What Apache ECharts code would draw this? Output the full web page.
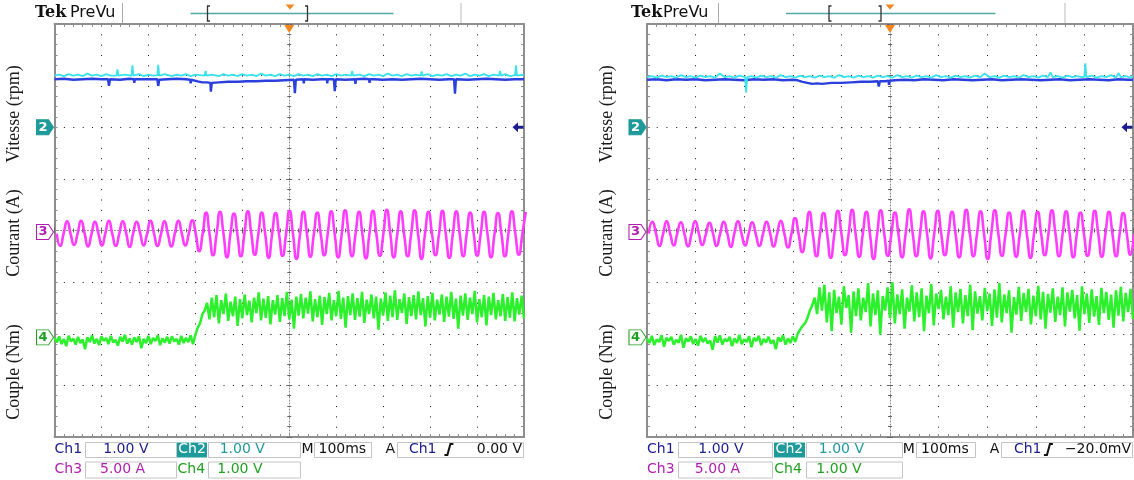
<!DOCTYPE html>
<html>
<head>
<meta charset="utf-8">
<script src="https://cdn.jsdelivr.net/npm/echarts@6/dist/echarts.min.js"></script>
<style>
html,body{margin:0;padding:0;background:#fff;}
#chart{width:1134px;height:480px;}
</style>
</head>
<body>
<div id="chart"></div>
<script>
// ---------------- DATA (divisions vs ms) ----------------
const axisTitles = ['Vitesse (rpm)', 'Courant (A)', 'Couple (Nm)'];
const markerLabels = ['2', '3', '4'];
const markerLevels = [2.0, -0.03, -2.07];
const ch1TrigLevel = 2.0;
const infoRow1Left = ['Ch1', '1.00 V', 'Ch2', '1.00 V', 'M', '100ms', 'A', 'Ch1', '0.00 V'];
const infoRow1Right = ['Ch1', '1.00 V', 'Ch2', '1.00 V', 'M', '100ms', 'A', 'Ch1', '\u221220.0mV'];
const infoRow2 = ['Ch3', '5.00 A', 'Ch4', '1.00 V'];
const headerTexts = ['Tek', 'PreVu'];

// Ch1 (blue) [t ms, div]
const ch1Left = [[-500,2.93],[-480,2.94],[-460,2.92],[-440,2.93],[-420,2.94],[-400,2.93],[-386,2.93],[-384,2.80],[-382,2.93],[-360,2.92],[-340,2.94],[-331,2.93],[-330,2.86],[-329,2.93],[-320,2.93],[-300,2.93],[-281,2.93],[-279,2.80],[-277,2.92],[-260,2.93],[-240,2.94],[-220,2.93],[-211,2.92],[-210,2.85],[-209,2.92],[-205,2.92],[-195,2.89],[-185,2.87],[-175,2.87],[-168,2.86],[-167,2.69],[-165,2.86],[-150,2.87],[-130,2.88],[-110,2.88],[-90,2.89],[-70,2.89],[-50,2.90],[-30,2.90],[-10,2.91],[10,2.92],[12,2.66],[14,2.92],[30,2.93],[31,2.85],[32,2.93],[50,2.92],[70,2.93],[80,2.93],[81,2.85],[82,2.93],[95,2.93],[97,2.70],[99,2.93],[120,2.92],[140,2.93],[141,2.84],[142,2.93],[160,2.94],[170,2.93],[171,2.86],[172,2.93],[180,2.93],[200,2.92],[220,2.93],[240,2.92],[260,2.93],[280,2.94],[300,2.93],[320,2.92],[340,2.93],[351,2.93],[353,2.65],[355,2.93],[380,2.92],[400,2.93],[420,2.94],[440,2.93],[460,2.92],[480,2.93],[500,2.93]];
const ch1Right = [[-500,2.92],[-480,2.93],[-460,2.91],[-440,2.93],[-420,2.92],[-400,2.93],[-380,2.91],[-360,2.92],[-340,2.93],[-320,2.92],[-300,2.91],[-280,2.93],[-260,2.92],[-240,2.93],[-220,2.91],[-200,2.92],[-190,2.91],[-180,2.88],[-170,2.86],[-160,2.84],[-150,2.85],[-140,2.84],[-120,2.86],[-100,2.86],[-80,2.87],[-60,2.88],[-40,2.88],[-25,2.89],[-23,2.79],[-21,2.89],[-10,2.89],[-3,2.90],[-2,2.82],[-1,2.90],[10,2.91],[30,2.92],[50,2.91],[70,2.93],[90,2.92],[110,2.91],[130,2.93],[150,2.92],[170,2.91],[190,2.92],[210,2.93],[230,2.91],[250,2.92],[270,2.93],[290,2.92],[310,2.91],[330,2.92],[350,2.93],[370,2.91],[390,2.92],[410,2.93],[430,2.92],[450,2.91],[470,2.93],[490,2.92],[500,2.92]];

// Ch2 (cyan) [t ms, div]
const ch2Left = [[-500,3.00],[-490,3.02],[-480,2.99],[-470,3.03],[-460,3.00],[-450,3.02],[-440,2.99],[-430,3.04],[-420,3.00],[-410,3.02],[-400,2.99],[-390,3.03],[-380,3.00],[-368,3.00],[-366,3.12],[-364,3.00],[-350,3.02],[-336,3.00],[-334,3.20],[-332,3.00],[-320,3.03],[-310,2.99],[-300,3.02],[-290,3.00],[-281,3.01],[-279,3.21],[-277,3.00],[-265,3.03],[-250,2.99],[-240,3.02],[-230,3.00],[-220,3.03],[-210,2.99],[-200,3.02],[-180,3.00],[-178,3.09],[-176,3.00],[-165,3.02],[-150,2.99],[-140,3.03],[-130,3.00],[-120,3.02],[-110,2.99],[-100,3.03],[-90,3.00],[-80,3.02],[-70,2.99],[-60,3.04],[-50,3.00],[-40,3.02],[-30,2.99],[-20,3.03],[-10,3.00],[0,3.02],[10,2.99],[20,3.03],[30,3.00],[40,3.02],[50,2.99],[60,3.03],[70,3.00],[80,3.02],[90,2.99],[100,3.03],[110,3.00],[120,3.02],[132,3.00],[134,3.09],[136,3.00],[150,3.02],[160,2.99],[170,3.03],[180,3.00],[190,3.02],[200,2.99],[210,3.04],[220,3.00],[230,3.02],[240,2.99],[250,3.03],[260,3.00],[270,3.02],[280,3.00],[282,3.08],[284,3.00],[295,3.03],[305,2.99],[315,3.02],[325,3.00],[335,3.03],[345,2.99],[355,3.02],[365,3.00],[375,3.04],[385,2.99],[395,3.02],[405,3.00],[415,3.03],[425,2.99],[435,3.02],[447,3.00],[449,3.09],[451,3.00],[460,3.03],[470,2.99],[481,3.01],[483,3.20],[485,3.00],[495,3.02],[500,3.00]];
const ch2Right = [[-500,2.97],[-490,2.99],[-480,2.96],[-470,3.00],[-460,2.97],[-450,2.99],[-440,2.96],[-430,3.01],[-420,2.97],[-410,2.99],[-400,2.96],[-390,3.00],[-380,2.97],[-370,2.99],[-360,2.96],[-350,3.04],[-340,2.97],[-330,2.99],[-320,2.96],[-310,3.00],[-298,2.97],[-296,2.67],[-294,2.97],[-285,2.99],[-275,2.96],[-265,3.00],[-255,2.97],[-245,2.99],[-235,2.96],[-225,3.01],[-215,2.97],[-205,2.99],[-195,2.96],[-185,3.00],[-175,2.97],[-165,2.99],[-155,2.96],[-145,3.00],[-135,2.97],[-125,2.99],[-115,2.96],[-105,3.01],[-95,2.97],[-85,2.99],[-75,2.96],[-65,3.00],[-55,2.97],[-45,2.99],[-35,2.96],[-25,3.00],[-15,2.97],[-5,2.99],[5,2.96],[15,3.01],[25,2.97],[35,2.99],[45,2.96],[55,3.00],[65,2.97],[75,2.99],[85,2.96],[95,3.01],[105,2.97],[115,2.99],[125,2.96],[135,3.00],[145,2.97],[155,2.99],[165,2.96],[175,3.00],[185,2.97],[195,3.04],[205,2.97],[215,2.99],[225,2.96],[235,3.00],[245,2.97],[255,2.99],[265,2.96],[275,3.01],[285,2.97],[295,2.99],[305,2.96],[315,3.00],[325,2.97],[330,3.06],[335,2.97],[345,2.99],[355,2.96],[365,3.00],[375,2.97],[385,2.99],[395,2.97],[400,2.98],[402,3.24],[404,2.97],[415,3.00],[425,2.96],[435,2.99],[445,2.97],[455,3.01],[465,2.96],[470,3.05],[475,2.97],[485,2.99],[495,2.96],[500,2.98]];

// Ch3 (magenta current) sampled every quarter period
const ch3LeftStart = -495.2, ch3LeftStep = 7.4;
const ch3Left = [
-0.06,-0.30,-0.05,0.18, -0.07,-0.28,-0.06,0.19, -0.05,-0.31,-0.07,0.17, -0.06,-0.29,-0.05,0.19,
-0.07,-0.30,-0.06,0.18, -0.06,-0.32,-0.05,0.17, -0.05,-0.29,-0.06,0.19, -0.06,-0.30,-0.07,0.18,
-0.07,-0.31,-0.05,0.19, -0.06,-0.29,-0.06,0.20, -0.06,-0.40,-0.06,0.35,
-0.08,-0.48,-0.07,0.36, -0.07,-0.52,-0.06,0.33, -0.08,-0.50,-0.07,0.37, -0.06,-0.47,-0.08,0.35,
-0.07,-0.53,-0.06,0.34, -0.08,-0.49,-0.07,0.38, -0.07,-0.55,-0.08,0.36, -0.06,-0.51,-0.07,0.35,
-0.08,-0.48,-0.06,0.37, -0.07,-0.52,-0.08,0.39, -0.06,-0.50,-0.07,0.36, -0.08,-0.54,-0.06,0.38,
-0.07,-0.49,-0.07,0.40, -0.06,-0.52,-0.08,0.37, -0.08,-0.50,-0.07,0.39, -0.07,-0.55,-0.06,0.36,
-0.06,-0.48,-0.08,0.38, -0.08,-0.53,-0.07,0.37, -0.07,-0.50,-0.06,0.35, -0.06,-0.49,-0.08,0.36,
-0.08,-0.52,-0.07,0.34, -0.07,-0.50,-0.06,0.37, -0.06,-0.47,-0.07,0.36];
const ch3RightStart = -496.3, ch3RightStep = 7.34;
const ch3Right = [
-0.06,0.17,-0.05,-0.30, -0.07,0.18,-0.06,-0.29, -0.05,0.16,-0.07,-0.31, -0.06,0.18,-0.05,-0.28,
-0.07,0.15,-0.06,-0.30, -0.06,0.17,-0.05,-0.32, -0.05,0.18,-0.06,-0.29, -0.06,0.16,-0.07,-0.30,
-0.07,0.17,-0.05,-0.31, -0.06,0.19,-0.06,-0.33, -0.06,0.24,-0.07,-0.42,
-0.07,0.36,-0.08,-0.50, -0.06,0.34,-0.07,-0.53, -0.08,0.38,-0.06,-0.48, -0.07,0.40,-0.08,-0.51,
-0.06,0.36,-0.07,-0.55, -0.08,0.39,-0.06,-0.49, -0.07,0.35,-0.08,-0.52, -0.06,0.41,-0.07,-0.50,
-0.08,0.37,-0.06,-0.54, -0.07,0.38,-0.08,-0.48, -0.06,0.36,-0.07,-0.52, -0.08,0.40,-0.06,-0.50,
-0.07,0.37,-0.08,-0.55, -0.06,0.39,-0.07,-0.49, -0.08,0.35,-0.06,-0.51, -0.07,0.38,-0.08,-0.53,
-0.06,0.36,-0.07,-0.48, -0.08,0.39,-0.06,-0.50, -0.07,0.37,-0.08,-0.52, -0.06,0.35,-0.07,-0.49,
-0.08,0.38,-0.06,-0.51, -0.07,0.36,-0.08,-0.50, -0.06,0.34,-0.07,-0.47, -0.07];

// Ch4 (green torque) sampled every 5 ms from -500 ms
const ch4Start = -500, ch4Step = 5;
const ch4Left = [
-2.08,-2.17,-2.05,-2.20,-2.10,-2.24,-2.04,-2.15,-2.09,-2.21,
-2.06,-2.18,-2.11,-2.30,-2.07,-2.16,-2.03,-2.19,-2.10,-2.22,
-2.05,-2.14,-2.08,-2.20,-2.04,-2.17,-2.12,-2.23,-2.06,-2.15,
-2.02,-2.19,-2.09,-2.21,-2.07,-2.16,-2.05,-2.28,-2.10,-2.18,
-2.04,-2.20,-2.08,-2.14,-2.03,-2.22,-2.09,-2.17,-2.06,-2.19,
-2.05,-2.15,-2.10,-2.21,-2.04,-2.18,-2.08,-2.16,-2.03,-2.20,
-2.02,-1.88,-1.80,-1.62,-1.55,-1.40,
-1.72,-1.30,-1.68,-1.25,-1.80,-1.35,-1.62,-1.22,-1.75,-1.38,
-1.66,-1.28,-1.85,-1.33,-1.70,-1.24,-1.64,-1.36,-1.78,-1.30,
-1.60,-1.20,-1.74,-1.32,-1.69,-1.27,-1.82,-1.35,-1.63,-1.25,
-1.77,-1.31,-1.66,-1.19,-1.72,-1.34,-1.90,-1.28,-1.65,-1.23,
-1.70,-1.30,-1.61,-1.18,-1.76,-1.33,-1.68,-1.26,-1.83,-1.29,
-1.62,-1.21,-1.74,-1.35,-1.66,-1.17,-1.71,-1.30,-1.88,-1.27,
-1.64,-1.22,-1.73,-1.31,-1.67,-1.19,-1.79,-1.34,-1.62,-1.24,
-1.70,-1.28,-1.92,-1.32,-1.65,-1.20,-1.75,-1.26,-1.68,-1.16,
-1.73,-1.33,-1.60,-1.22,-1.81,-1.29,-1.66,-1.25,-1.72,-1.18,
-1.64,-1.31,-1.86,-1.27,-1.69,-1.21,-1.74,-1.34,-1.63,-1.24,
-1.77,-1.28,-1.67,-1.19,-1.71,-1.32,-1.90,-1.26,-1.65,-1.22,
-1.73,-1.30,-1.62,-1.17,-1.78,-1.33,-1.68,-1.25,-1.84,-1.28,
-1.64,-1.21,-1.72,-1.35,-1.66,-1.23,-1.75,-1.29,-1.69,-1.20,
-1.76,-1.31,-1.63,-1.26,-1.70];
const ch4Right = [
-2.09,-2.18,-2.04,-2.22,-2.11,-2.16,-2.03,-2.25,-2.08,-2.14,
-2.06,-2.21,-2.12,-2.17,-2.02,-2.27,-2.09,-2.15,-2.05,-2.20,
-2.10,-2.23,-2.04,-2.16,-2.08,-2.19,-2.13,-2.31,-2.05,-2.17,
-2.03,-2.21,-2.10,-2.15,-2.06,-2.24,-2.09,-2.18,-2.02,-2.20,
-2.11,-2.16,-2.05,-2.26,-2.08,-2.14,-2.04,-2.22,-2.10,-2.17,
-2.06,-2.19,-2.12,-2.30,-2.07,-2.15,-2.03,-2.21,-2.09,-2.18,
-2.05,-2.16,
-2.00,-1.92,-1.85,-1.80,-1.70,-1.55,-1.45,-1.30,
-1.62,-1.10,-1.55,-1.05,-1.78,-1.20,-1.95,-1.15,-1.60,-1.28,
-1.82,-1.08,-1.50,-1.25,-1.98,-1.18,-1.66,-1.12,-1.74,-1.30,
-1.58,-1.02,-1.86,-1.22,-1.64,-1.16,-2.02,-1.27,-1.55,-1.10,
-1.70,-1.00,-1.80,-1.24,-1.62,-1.14,-1.90,-1.30,-1.57,-1.06,
-1.76,-1.20,-1.68,-1.12,-1.95,-1.26,-1.60,-1.04,-1.84,-1.22,
-1.52,-1.15,-1.72,-1.28,-1.64,-1.08,-1.88,-1.20,-1.58,-1.13,
-1.80,-1.25,-1.66,-1.05,-1.93,-1.18,-1.61,-1.27,-1.74,-1.11,
-1.56,-1.22,-1.85,-1.14,-1.69,-1.02,-1.78,-1.24,-1.60,-1.16,
-1.98,-1.29,-1.63,-1.09,-1.75,-1.21,-1.58,-1.13,-1.82,-1.26,
-1.66,-1.07,-1.72,-1.19,-1.90,-1.23,-1.59,-1.12,-1.77,-1.28,
-1.64,-1.10,-1.86,-1.20,-1.57,-1.15,-1.70,-1.25,-1.94,-1.08,
-1.62,-1.22,-1.79,-1.14,-1.67,-1.27,-1.83,-1.11,-1.60,-1.19,
-1.73,-1.24,-1.88,-1.16,-1.65,-1.09,-1.76,-1.21,-1.58,-1.13,
-1.71];

// ---------------- LAYOUT / STYLE ----------------
const PANELS = [
  {left: 54.5, top: 24, width: 469.5, height: 413, titleX: 14, tekX: 35, preX: 70, sep: [122.5, 461], bar: [190.5, 393.5], brk: [207.5, 307.5], trg: 290, slope: 0.84, row1: infoRow1Left},
  {left: 647, top: 24, width: 486, height: 413, titleX: 607, tekX: 631, preX: 663, sep: [718.5, 1065], bar: [786, 995.5], brk: [829, 881], trg: 890, slope: 0.826, row1: infoRow1Right}
];
const titleY = [114, 233, 372];
const COL = {ch1: '#2a3fdc', ch2: '#3ae2ee', ch3: '#ff3cff', ch4: '#2cf02c',
  t1: '#1c1c8e', t2: '#1f9a9a', t3: '#b01eb0', t4: '#1fa01f'};
const FRAME = '#8e8e8e', DOT = '#111';
const CENTER = '#888';
const PENT = 'path://M0,0 L12,0 L17,7.5 L12,15 L0,15 Z';
const ARROW = 'path://M0,5 L6,0 L6,3.5 L12,3.5 L12,6.5 L6,6.5 L6,10 Z';
const FONT = '14px "DejaVu Sans", sans-serif';

const toPairs = (vals, t0, dt) => vals.map((v, i) => [+(t0 + i * dt).toFixed(2), v]);

const grids = [], xAxes = [], yAxes = [], series = [], graphics = [];

PANELS.forEach((P, gi) => {
  grids.push({left: P.left, top: P.top, width: P.width, height: P.height, show: false, containLabel: false, outerBoundsMode: 'none'});
  const dotV = P.height / 8 / 5, dotH = P.width / 10 / 5;
  const frameAxis = (extra) => Object.assign({
    gridIndex: gi, type: 'value', min: -500, max: 500, interval: 100,
    axisLine: {show: true, onZero: false, lineStyle: {color: FRAME, width: 2}},
    axisTick: {show: true, inside: true, length: 3, lineStyle: {color: FRAME}},
    minorTick: {show: true, splitNumber: 5, length: 3, lineStyle: {color: FRAME}},
    axisLabel: {show: false}, splitLine: {show: false}
  }, extra);
  const centerAxis = (extra, inside) => Object.assign({
    gridIndex: gi, type: 'value',
    axisTick: {show: true, inside: inside, length: 3, lineStyle: {color: '#666'}},
    minorTick: {show: true, splitNumber: 5, length: 2, lineStyle: {color: '#666'}},
    axisLabel: {show: false}, splitLine: {show: false}
  }, extra);
  const yb = gi * 4, xb = gi * 4;
  const cLine = (idx, show) => ({show: show, onZero: true, onZeroAxisIndex: idx, lineStyle: {color: CENTER, width: 1, type: [1, 2]}});
  xAxes.push(frameAxis({position: 'bottom', splitLine: {show: true, lineStyle: {color: DOT, width: 1, type: [1, dotV - 1]}}}));
  xAxes.push(frameAxis({position: 'top'}));
  xAxes.push(centerAxis({position: 'bottom', min: -500, max: 500, interval: 100, axisLine: cLine(yb, true)}, true));
  xAxes.push(centerAxis({position: 'bottom', min: -500, max: 500, interval: 100, axisLine: cLine(yb, false)}, false));
  const yFrame = (extra) => Object.assign(frameAxis({}), {min: -4, max: 4, interval: 1}, extra);
  yAxes.push(yFrame({position: 'left', splitLine: {show: true, lineStyle: {color: DOT, width: 1, type: [1, dotH - 1]}}}));
  yAxes.push(yFrame({position: 'right'}));
  yAxes.push(centerAxis({position: 'left', min: -4, max: 4, interval: 1, axisLine: cLine(xb, true)}, true));
  yAxes.push(centerAxis({position: 'left', min: -4, max: 4, interval: 1, axisLine: cLine(xb, false)}, false));

  const base = (name, data, color, width, extra) => Object.assign({
    name, type: 'line', xAxisIndex: xb, yAxisIndex: yb, data,
    showSymbol: false, symbol: 'none', silent: true, animation: false, clip: true,
    lineStyle: {color, width}, itemStyle: {color}
  }, extra || {});
  const ch1 = gi === 0 ? ch1Left : ch1Right;
  const ch2 = gi === 0 ? ch2Left : ch2Right;
  const ch3 = gi === 0 ? toPairs(ch3Left, ch3LeftStart, ch3LeftStep) : toPairs(ch3Right, ch3RightStart, ch3RightStep);
  const ch4 = toPairs(gi === 0 ? ch4Left : ch4Right, ch4Start, ch4Step);
  const mk = (lvl, txt, fill, stroke, txtColor) => ({
    coord: [-500, lvl], symbol: PENT, symbolSize: [17, 15], symbolOffset: [-9.5, 0],
    itemStyle: {color: fill, borderColor: stroke, borderWidth: 1},
    label: {show: true, position: 'inside', formatter: txt, color: txtColor, fontSize: 13, fontWeight: 'bold', fontFamily: 'DejaVu Sans', offset: [-2, 0]}
  });
  series.push(base('Ch1', ch1, COL.ch1, 2.4, {markPoint: {silent: true, animation: false, data: [
    {coord: [500, ch1TrigLevel], symbol: ARROW, symbolSize: [11, 10], symbolOffset: [-6, 0], itemStyle: {color: COL.t1}, label: {show: false}},
    {coord: [0, 4], symbol: 'triangle', symbolRotate: 180, symbolSize: [10, 8], symbolOffset: [0, 5], itemStyle: {color: '#f5861f'}, label: {show: false}}
  ]}}));
  series.push(base('Ch2', ch2, COL.ch2, 1.8, {markPoint: {silent: true, animation: false, data: [mk(markerLevels[0], markerLabels[0], COL.t2, COL.t2, '#fff')]}}));
  series.push(base('Ch3', ch3, COL.ch3, 2.6, {smooth: 0.6, markPoint: {silent: true, animation: false, data: [mk(markerLevels[1], markerLabels[1], '#fff', COL.t3, COL.t3)]}}));
  series.push(base('Ch4', ch4, COL.ch4, 2.5, {markPoint: {silent: true, animation: false, data: [mk(markerLevels[2], markerLabels[2], '#fff', COL.t4, COL.t4)]}}));

  // ---- decorations ----
  const L = P.left, W = P.width, R = L + W;
  const txt = (x, y, s, fill, align, font, rot) => ({type: 'text', x, y, rotation: rot || 0, silent: true, z: 10,
    style: {text: s, fill, font: font || FONT, align: align || 'left', verticalAlign: 'middle'}});
  const box = (f0, f1, y, h) => ({type: 'rect', silent: true, z: 9,
    shape: {x: Math.round(L + f0 * W) + 0.5, y: y + 0.5, width: Math.round((f1 - f0) * W), height: h},
    style: {fill: 'none', stroke: '#c4c4c4', lineWidth: 1}});
  const seg = (pts, color, w) => ({type: 'polyline', silent: true, z: 10, shape: {points: pts}, style: {stroke: color, lineWidth: w, fill: 'none'}});
  // header
  graphics.push(txt(P.tekX, 13, headerTexts[0], '#111', 'left', 'bold 16px "DejaVu Serif", serif'));
  graphics.push(txt(P.preX, 12.5, headerTexts[1], '#111', 'left', '16px "DejaVu Sans", sans-serif'));
  graphics.push(seg([[P.sep[0], 3], [P.sep[0], 23]], '#aaa', 1));
  graphics.push(seg([[P.sep[1], 3], [P.sep[1], 23]], '#bbb', 1));
  graphics.push(seg([[P.bar[0], 13.5], [P.bar[1], 13.5]], '#4fa9a9', 1.5));
  graphics.push(seg([[P.brk[0] + 2.5, 6], [P.brk[0], 6], [P.brk[0], 21], [P.brk[0] + 2.5, 21]], '#333', 1.3));
  graphics.push(seg([[P.brk[1] - 2.5, 6], [P.brk[1], 6], [P.brk[1], 21], [P.brk[1] - 2.5, 21]], '#333', 1.3));
  graphics.push({type: 'polygon', silent: true, z: 10, shape: {points: [[P.trg - 4.5, 4.5], [P.trg + 4.5, 4.5], [P.trg, 9.5]]}, style: {fill: '#f5861f'}});
  // y titles
  axisTitles.forEach((t, i) => graphics.push(txt(P.titleX, titleY[i], t, '#1a1a1a', 'center', '18px "Liberation Serif", serif', Math.PI / 2)));
  // info row 1
  const r1 = P.row1, y1 = 449.5, y2 = 469.5;
  graphics.push(txt(L, y1, r1[0], COL.t1));
  graphics.push(box(0.064, 0.258, 442, 15));
  graphics.push(txt(L + 0.152 * W, y1, r1[1], COL.t1, 'center'));
  graphics.push({type: 'rect', silent: true, z: 9, shape: {x: Math.round(L + 0.261 * W), y: 442.5, width: Math.round(0.064 * W), height: 15}, style: {fill: COL.t2}});
  graphics.push(txt(L + 0.293 * W, y1, r1[2], '#fff', 'center'));
  graphics.push(box(0.327, 0.524, 442, 15));
  graphics.push(txt(L + 0.40 * W, y1, r1[3], COL.t2, 'center'));
  graphics.push(txt(L + 0.526 * W, y1, r1[4], '#111'));
  graphics.push(box(0.553, 0.674, 442, 15));
  graphics.push(txt(L + 0.613 * W, y1, r1[5], '#111', 'center'));
  graphics.push(txt(L + 0.705 * W, y1, r1[6], '#111'));
  graphics.push(box(0.729, 0.998, 442, 15));
  graphics.push(txt(L + 0.755 * W, y1, r1[7], COL.t1));
  const sx = L + P.slope * W;
  graphics.push(seg([[sx - 4.5, 455], [sx - 1.5, 455], [sx + 1.5, 444], [sx + 4.5, 444]], '#111', 2));
  graphics.push(txt(R - 2, y1, r1[8], '#111', 'right'));
  // info row 2
  graphics.push(txt(L, y2, infoRow2[0], COL.t3));
  graphics.push(box(0.064, 0.258, 461.5, 16));
  graphics.push(txt(L + 0.145 * W, y2, infoRow2[1], COL.t3, 'center'));
  graphics.push(txt(L + 0.262 * W, y2, infoRow2[2], COL.t4));
  graphics.push(box(0.327, 0.524, 461.5, 16));
  graphics.push(txt(L + 0.395 * W, y2, infoRow2[3], COL.t4, 'center'));
});

const chart = echarts.init(document.getElementById('chart'), null, {renderer: 'canvas', width: 1134, height: 480});
chart.setOption({
  backgroundColor: '#ffffff',
  animation: false,
  grid: grids,
  xAxis: xAxes,
  yAxis: yAxes,
  series: series,
  graphic: graphics
});
</script>
</body>
</html>
